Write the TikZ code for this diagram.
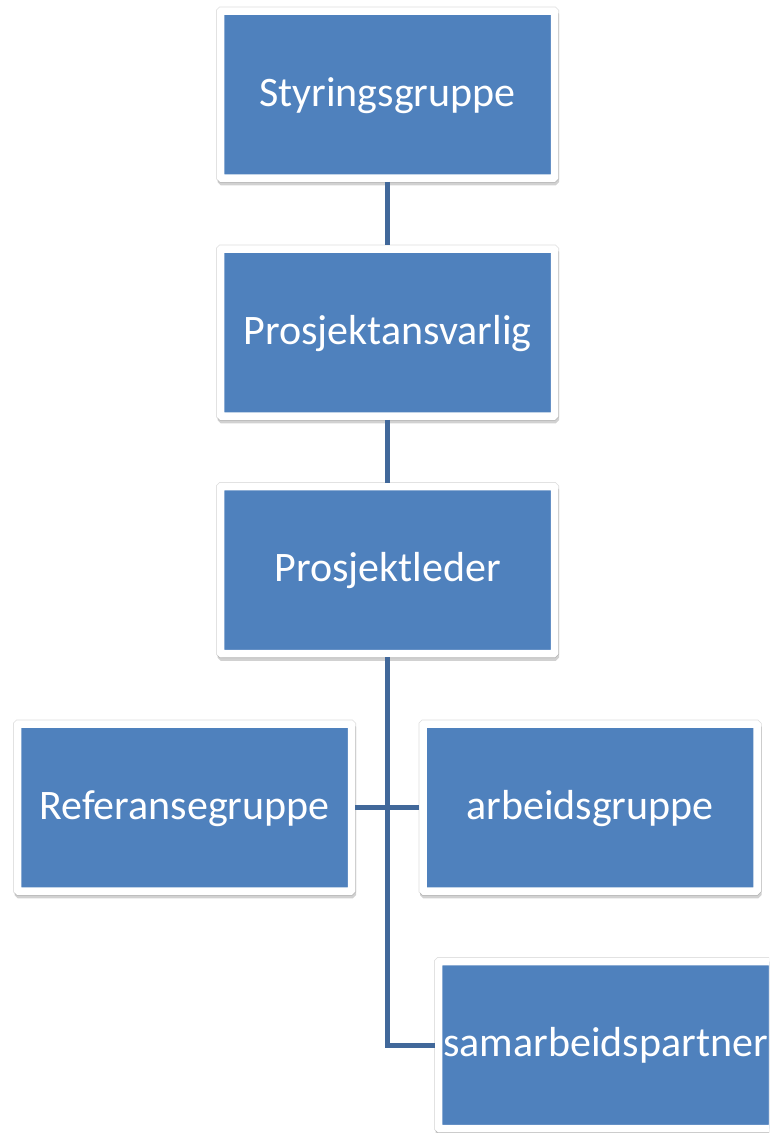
\documentclass[tikz,border=0pt]{standalone}
\usepackage{fontspec}
\setmainfont{Carlito}
\usetikzlibrary{shadows}
\definecolor{boxblue}{HTML}{4F81BD}
\definecolor{linkblue}{HTML}{41689A}
\tikzset{
  orgbox/.style={rectangle, fill=boxblue, draw=white, line width=7.5pt,
    rounded corners=1pt, minimum width=334pt, minimum height=167pt,
    inner sep=0pt, outer sep=3.75pt, text=white,
    font=\fontsize{42}{50}\selectfont, text height=27pt, text depth=4pt,
    preaction={draw=black!13, line width=9pt},
    drop shadow={shadow xshift=0.8pt, shadow yshift=-3.5pt, opacity=0.18,
      fill=black, draw=black, line width=7.5pt}},
  link/.style={draw=linkblue, line width=5pt}
}
\begin{document}
\begin{tikzpicture}[x=1pt,y=-1pt]
\useasboundingbox (0,0) rectangle (769,1133);
\clip (0,0) rectangle (769,1133);
\fill [white] (0,0) rectangle (769,1133);
% boxes
\node [orgbox] (styr) at (387.5,94.5) {Styringsgruppe};
\node [orgbox] (ansv) at (387.5,332.5) {Prosjektansvarlig};
\node [orgbox] (leder) at (387.5,570) {Prosjektleder};
\node [orgbox] (ref) at (184.5,807.5) {Referansegruppe};
\node [orgbox] (arb) at (590,807.5) {arbeidsgruppe};
\node [orgbox] (samarb) at (605.5,1045) {samarbeidspartner};
% connectors
\draw [link] (styr) -- (ansv);
\draw [link] (ansv) -- (leder);
\draw [link] (ref) -- (arb);
\draw [link] (leder.south) |- (samarb.west);
\end{tikzpicture}
\end{document}
